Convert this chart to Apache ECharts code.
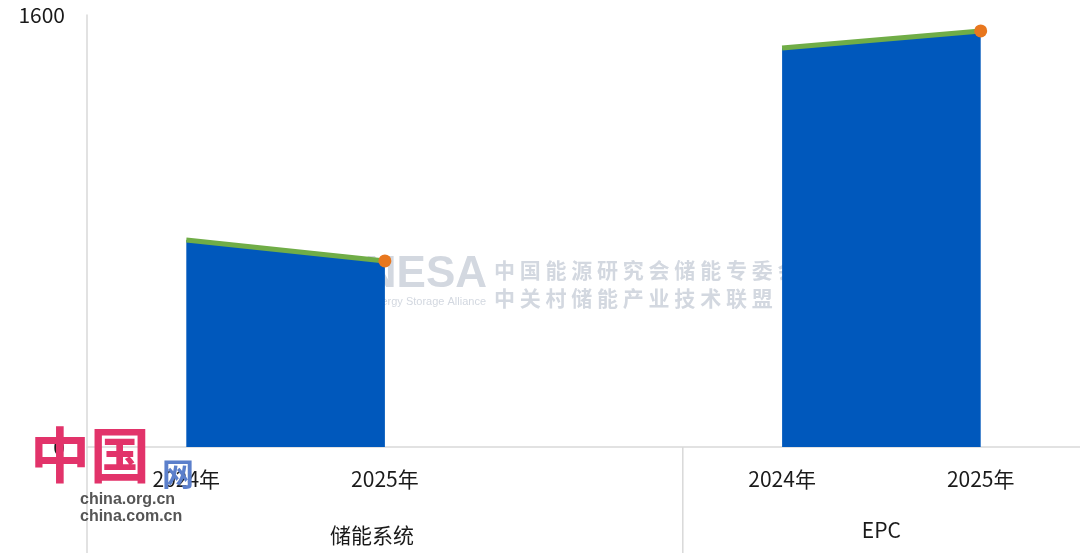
<!DOCTYPE html>
<html><head><meta charset="utf-8">
<script src="https://cdn.jsdelivr.net/npm/echarts@6/dist/echarts.min.js"></script>
<style>html,body{margin:0;padding:0;background:#fff}#c{width:1080px;height:553px}</style>
</head><body><div id="c"></div>
<script>
const categories = ['2024年', '2025年', '', '2024年', '2025年'];
const groups = ['储能系统', 'EPC'];
const systemValues = [767, 689, null, null, null];
const epcValues = [null, null, null, 1478, 1541];
const yTicks = [0, 1600];

function mk(vals) {
  return vals.map((v, i) => {
    if (v === null) return null;
    const last = i === vals.length - 1 || vals[i + 1] === null;
    return last ? { value: v, symbol: 'circle', symbolSize: 13 } : { value: v, symbol: 'none' };
  });
}
const font = '"Microsoft YaHei","Noto Sans CJK SC","Noto Sans",sans-serif';
const chart = echarts.init(document.getElementById('c'));
const lineSeries = (name, vals) => ({
  name, type: 'line', data: mk(vals), connectNulls: false, z: 3,
  lineStyle: { color: '#70AD47', width: 5 },
  itemStyle: { color: '#E8771E', borderWidth: 0 },
  areaStyle: { color: '#0058BC', opacity: 1 },
  emphasis: { disabled: true }, animation: false
});
chart.setOption({
  animation: false,
  grid: { left: 87, right: 0, top: 15, bottom: 106, containLabel: false },
  xAxis: {
    type: 'category', data: categories, boundaryGap: true,
    axisLine: { lineStyle: { color: '#d9d9d9', width: 1.5 } },
    axisTick: { show: false },
    axisLabel: { color: '#1a1a1a', fontSize: 21, margin: 22, fontFamily: font, interval: 0 }
  },
  yAxis: {
    type: 'value', min: yTicks[0], max: yTicks[1], interval: yTicks[1] - yTicks[0],
    splitLine: { show: false },
    axisLine: { show: true, lineStyle: { color: '#d9d9d9', width: 1.5 } },
    axisTick: { show: false },
    axisLabel: { color: '#1a1a1a', fontSize: 21, margin: 22, fontFamily: font, formatter: v => String(v) }
  },
  series: [lineSeries(groups[0], systemValues), lineSeries(groups[1], epcValues)]
});

const half = (chart.convertToPixel({ xAxisIndex: 0 }, 1) - chart.convertToPixel({ xAxisIndex: 0 }, 0)) / 2;
const bound = chart.convertToPixel({ xAxisIndex: 0 }, 2) + half;
const left = chart.convertToPixel({ xAxisIndex: 0 }, 0) - half;
const right = chart.convertToPixel({ xAxisIndex: 0 }, 4) + half;
const y0 = chart.convertToPixel({ yAxisIndex: 0 }, 0);
const wm = '#d3d8e0';
chart.setOption({
  graphic: [
    { type: 'line', z: 1, shape: { x1: left, y1: y0, x2: left, y2: 553 }, style: { stroke: '#d9d9d9', lineWidth: 1.5 } },
    { type: 'line', z: 1, shape: { x1: bound, y1: y0, x2: bound, y2: 553 }, style: { stroke: '#d9d9d9', lineWidth: 1.5 } },
    { type: 'text', z: 1, x: (left + bound) / 2 - 13, y: 535, style: { text: groups[0], fill: '#1a1a1a', font: '21px ' + font, textAlign: 'center', textVerticalAlign: 'middle' } },
    { type: 'text', z: 1, x: (bound + right) / 2, y: 530, style: { text: groups[1], fill: '#1a1a1a', font: '21px ' + font, textAlign: 'center', textVerticalAlign: 'middle' } },
    { type: 'text', z: 0, x: 487, y: 275, style: { text: 'CNESA', fill: wm, font: 'bold 44px "Liberation Sans",Arial,sans-serif', textAlign: 'right', textVerticalAlign: 'middle' } },
    { type: 'text', z: 0, x: 486, y: 302, style: { text: 'Energy Storage Alliance', fill: wm, font: '11px "Liberation Sans",sans-serif', textAlign: 'right', textVerticalAlign: 'middle' } },
    { type: 'text', z: 0, x: 494, y: 270, style: { text: '中 国 能 源 研 究 会 储 能 专 委 会', fill: wm, font: 'bold 21px ' + font, textAlign: 'left', textVerticalAlign: 'middle' } },
    { type: 'text', z: 0, x: 494, y: 298, style: { text: '中 关 村 储 能 产 业 技 术 联 盟', fill: wm, font: 'bold 21px ' + font, textAlign: 'left', textVerticalAlign: 'middle' } },
    { type: 'text', z: 100, x: 30, y: 455, style: { text: '中国', fill: '#e2336a', font: 'bold 60px ' + font, textAlign: 'left', textVerticalAlign: 'middle' } },
    { type: 'text', z: 100, x: 162, y: 474, style: { text: '网', fill: '#5b7fcb', font: 'bold 32px ' + font, textAlign: 'left', textVerticalAlign: 'middle' } },
    { type: 'text', z: 100, x: 80, y: 500, style: { text: 'china.org.cn', fill: '#555', font: 'bold 16px "Liberation Sans",Arial,sans-serif', textAlign: 'left', textVerticalAlign: 'middle' } },
    { type: 'text', z: 100, x: 80, y: 517, style: { text: 'china.com.cn', fill: '#555', font: 'bold 16px "Liberation Sans",Arial,sans-serif', textAlign: 'left', textVerticalAlign: 'middle' } }
  ]
});
</script></body></html>
